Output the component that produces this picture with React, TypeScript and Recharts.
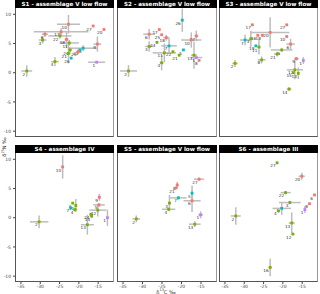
import { ErrorBar, Scatter, ScatterChart, XAxis, YAxis } from "recharts";

// id, group, δ13C, δ15N, sd δ13C, sd δ15N
type Row = [string, string, number, number, number, number];

const xTicks = [-35, -30, -25, -20, -15];
const yTicks = [-10, -5, 0, 5, 10];

const titles = [
  "S1 - assemblage V low flow",
  "S2 - assemblage V low flow",
  "S3 - assemblage V low flow",
  "S4 - assemblage IV",
  "S5 - assemblage V low flow",
  "S6 - assemblage III",
];

const s1: Row[] = [
  ["27", "r", -16.3, 8.0, 0, 0],
  ["20", "r", -13.5, 7.4, 0, 0],
  ["10", "r", -22.7, 8.3, 3.0, 1.6],
  ["17", "r", -24.6, 7.0, 7.1, 0.6],
  ["6", "r", -28.8, 6.6, 0.8, 0.5],
  ["3", "g", -29.4, 5.6, 1.0, 0.6],
  ["22", "g", -24.9, 6.3, 3.0, 0.5],
  ["18", "r", -23.2, 5.7, 0.5, 1.45],
  ["11", "g", -22.5, 5.1, 2.5, 0.5],
  ["5", "c", -18.9, 4.2, 3.7, 0.5],
  ["9", "r", -15.2, 4.9, 1.0, 1.3],
  ["24", "g", -22.3, 3.9, 0.5, 0.5],
  ["23", "c", -19.7, 3.9, 0, 0],
  ["25", "r", -20.2, 3.6, 0.6, 0.4],
  ["21", "g", -22.7, 3.3, 0.5, 1.7],
  ["26", "c", -22.0, 2.5, 0, 0],
  ["4", "g", -26.2, 1.9, 1.0, 0.8],
  ["1", "p", -15.4, 1.8, 2.2, 0],
  ["2", "g", -33.5, 0.3, 1.4, 1.0],
];

const s2: Row[] = [
  ["26", "c", -19.8, 9.0, 0, 2.0],
  ["17", "r", -25.7, 7.4, 0, 0],
  ["6", "r", -28.3, 6.6, 1.5, 0.9],
  ["25", "r", -25.1, 6.5, 0, 0],
  ["18", "r", -23.9, 6.0, 0.8, 0.5],
  ["27", "r", -16.2, 6.3, 0.5, 0.9],
  ["10", "r", -17.5, 5.6, 2.6, 1.3],
  ["24", "g", -26.3, 5.2, 0, 0],
  ["7", "c", -23.2, 4.6, 2.0, 1.3],
  ["3", "g", -28.3, 4.5, 1.0, 0.9],
  ["22", "g", -22.2, 3.6, 0, 0],
  ["5", "c", -19.5, 3.9, 0, 0],
  ["11", "g", -24.4, 3.4, 3.0, 1.6],
  ["21", "g", -20.6, 3.0, 0, 0],
  ["13", "g", -16.8, 3.0, 0.8, 2.3],
  ["1", "p", -16.2, 2.6, 1.5, 0],
  ["8", "r", -15.5, 2.1, 0, 0],
  ["4", "g", -25.1, 1.7, 0.5, 1.3],
  ["2", "g", -33.6, 0.3, 2.2, 1.0],
];

const s3: Row[] = [
  ["17", "r", -27.9, 8.2, 0, 0],
  ["27", "r", -19.0, 8.2, 0, 0],
  ["20", "r", -23.3, 6.9, 5.0, 2.6],
  ["16", "r", -26.5, 6.4, 0, 0],
  ["18", "r", -25.3, 6.4, 0, 0],
  ["7", "c", -29.8, 5.6, 1.3, 0.9],
  ["3", "g", -28.3, 5.8, 0.4, 1.4],
  ["10", "r", -19.0, 6.2, 0, 0],
  ["6", "r", -18.0, 4.9, 1.1, 0.9],
  ["19", "c", -27.0, 4.6, 0, 0],
  ["11", "g", -26.2, 4.4, 0.4, 1.3],
  ["5", "g", -20.3, 3.9, 2.8, 0.3],
  ["21", "g", -21.5, 3.2, 0.8, 0.4],
  ["8", "g", -25.5, 2.2, 1.0, 0.6],
  ["9", "r", -16.5, 2.4, 0.6, 0.3],
  ["1", "p", -14.7, 2.1, 0, 0.6],
  ["2", "g", -32.4, 1.6, 0.7, 0.6],
  ["12", "g", -16.9, 0.5, 2.1, 1.6],
  ["15", "g", -17.3, 0.0, 0, 0],
  ["13", "g", -16.0, -0.1, 0, 1.0],
  ["14", "g", -18.4, -2.8, 0.6, 0.3],
];

const s4: Row[] = [
  ["10", "r", -24.2, 8.7, 0.3, 2.0],
  ["9", "r", -14.7, 3.5, 0.3, 0.6],
  ["3", "g", -21.6, 2.5, 0, 0],
  ["5", "r", -14.8, 2.2, 1.5, 0.3],
  ["11", "g", -20.8, 2.1, 0.3, 1.1],
  ["7", "c", -22.1, 1.7, 0, 0],
  ["4", "g", -21.0, 1.4, 0.6, 0.4],
  ["12", "g", -15.1, 1.3, 2.2, 1.1],
  ["1", "p", -12.6, 0.0, 0, 1.4],
  ["24", "g", -16.9, 0.6, 0, 0],
  ["14", "g", -16.7, 0.3, 0.4, 0.4],
  ["13", "g", -17.8, -1.2, 1.7, 1.7],
  ["2", "g", -30.3, -0.7, 2.4, 1.1],
];

const s5: Row[] = [
  ["27", "r", -15.5, 6.6, 1.3, 0.3],
  ["8", "r", -21.1, 5.6, 0.3, 0.5],
  ["21", "r", -21.4, 5.1, 0, 0],
  ["5", "c", -17.3, 4.2, 0.3, 1.3],
  ["7", "c", -20.8, 3.4, 2.1, 0.3],
  ["6", "r", -17.3, 2.9, 2.2, 1.9],
  ["3", "g", -23.1, 2.5, 0.3, 1.4],
  ["4", "g", -23.3, 1.45, 1.7, 0.3],
  ["1", "p", -15.1, 0.5, 0.6, 0.6],
  ["2", "g", -31.6, -0.2, 1.0, 0.6],
  ["13", "g", -16.6, -1.1, 1.5, 0.5],
];

const s6: Row[] = [
  ["27", "g", -21.5, 9.4, 0, 0],
  ["20", "r", -15.1, 7.1, 0.8, 0.6],
  ["22", "g", -19.3, 4.3, 1.3, 0.3],
  ["6", "r", -11.8, 3.9, 0, 0],
  ["3", "g", -18.2, 2.6, 2.8, 0.3],
  ["8", "r", -13.1, 2.4, 0, 0],
  ["1", "p", -14.3, 1.4, 0, 0.6],
  ["7", "c", -20.3, 1.6, 2.4, 1.1],
  ["4", "g", -21.2, 1.2, 0, 0],
  ["2", "g", -32.2, 0.3, 1.3, 1.5],
  ["13", "g", -17.7, -0.9, 0.8, 1.8],
  ["12", "g", -17.4, -2.8, 0, 0],
  ["16", "g", -23.3, -8.5, 0.4, 1.5],
];

const panels = [s1, s2, s3, s4, s5, s6];

const palette: Record<string, string> = {
  r: "#F8766D",
  g: "#7CAE00",
  c: "#00BFC4",
  p: "#C77CFF",
};

const colLeft = [15, 117, 219];
const colWidth = [99, 100, 99];
const rowTop = [8, 153];
const plotH = 129;
const font = "'DejaVu Sans', sans-serif";

const Point = (props: any) => {
  const { cx, cy, payload } = props;
  if (cx == null || cy == null) return null;
  return (
    <g>
      <rect x={cx - 1.4} y={cy - 1.4} width={2.8} height={2.8} fill={palette[payload.grp]} />
      <text x={cx - 1.5} y={cy + 4.6} fontSize={4.2} fill="#333" textAnchor="end" fontFamily={font}>
        {payload.id}
      </text>
    </g>
  );
};

function Panel({ idx }: { idx: number }) {
  const col = idx % 3;
  const row = Math.floor(idx / 3);
  const showY = col === 0;
  const showX = row === 1;
  const yW = showY ? 15 : 0;
  const xH = showX ? 8 : 0;
  const data = panels[idx].map((r) => ({ id: r[0], grp: r[1], x: r[2], y: r[3], ex: r[4], ey: r[5] }));
  const tickStyle = { fontSize: 4.5, fill: "#444", fontFamily: font };

  return (
    <>
      <div style={{ position: "absolute", left: colLeft[col] - yW, top: rowTop[row] }}>
        <ScatterChart
          width={colWidth[col] + yW}
          height={plotH + xH}
          margin={{ top: 0, right: 0, bottom: 0, left: 0 }}
        >
          <XAxis
            type="number"
            dataKey="x"
            domain={[-36.55, -10.9]}
            ticks={xTicks}
            allowDataOverflow
            hide={!showX}
            height={xH}
            axisLine={false}
            tickSize={2}
            tickMargin={0.5}
            tickLine={{ stroke: "#444" }}
            tick={tickStyle}
          />
          <YAxis
            type="number"
            dataKey="y"
            domain={[-11, 11.08]}
            ticks={yTicks}
            allowDataOverflow
            hide={!showY}
            width={yW}
            axisLine={false}
            tickSize={2}
            tickLine={{ stroke: "#444" }}
            tick={tickStyle}
          />
          <Scatter data={data} shape={Point} isAnimationActive={false}>
            <ErrorBar dataKey="ex" direction="x" width={0} stroke="#bdbdbd" strokeWidth={1.5} isAnimationActive={false} />
            <ErrorBar dataKey="ey" direction="y" width={0} stroke="#bdbdbd" strokeWidth={1.5} isAnimationActive={false} />
          </Scatter>
        </ScatterChart>
      </div>
      <div
        style={{
          position: "absolute",
          left: colLeft[col],
          top: rowTop[row],
          width: colWidth[col],
          height: plotH,
          boxSizing: "border-box",
          borderLeft: "1.5px solid #555",
          borderBottom: "1.5px solid #555",
          borderRight: "1px solid #999",
          pointerEvents: "none",
        }}
      />
      <div
        style={{
          position: "absolute",
          left: colLeft[col],
          top: rowTop[row] - 8,
          width: colWidth[col],
          height: 8,
          background: "#000",
          color: "#fff",
          fontSize: 5.6,
          fontWeight: "bold",
          lineHeight: "8px",
          textAlign: "center",
          whiteSpace: "nowrap",
          overflow: "hidden",
        }}
      >
        {titles[idx]}
      </div>
    </>
  );
}

export default function App() {
  return (
    <div
      style={{
        position: "absolute",
        left: 0,
        top: 0,
        width: 320,
        height: 294,
        background: "#fff",
        fontFamily: font,
        overflow: "hidden",
      }}
    >
      {titles.map((_, i) => (
        <Panel key={i} idx={i} />
      ))}
      <div
        style={{
          position: "absolute",
          left: 4,
          top: 147,
          transform: "translate(-50%, -50%) rotate(-90deg)",
          fontSize: 5,
          color: "#333",
          whiteSpace: "nowrap",
        }}
      >
        δ<sup style={{ fontSize: 3.5 }}>15</sup>N ‰
      </div>
      <div
        style={{
          position: "absolute",
          left: 166,
          top: 291.5,
          transform: "translate(-50%, -50%)",
          fontSize: 5,
          lineHeight: "5px",
          color: "#333",
          whiteSpace: "nowrap",
        }}
      >
        δ<sup style={{ fontSize: 3.5, lineHeight: 0 }}>13</sup>C ‰
      </div>
    </div>
  );
}
